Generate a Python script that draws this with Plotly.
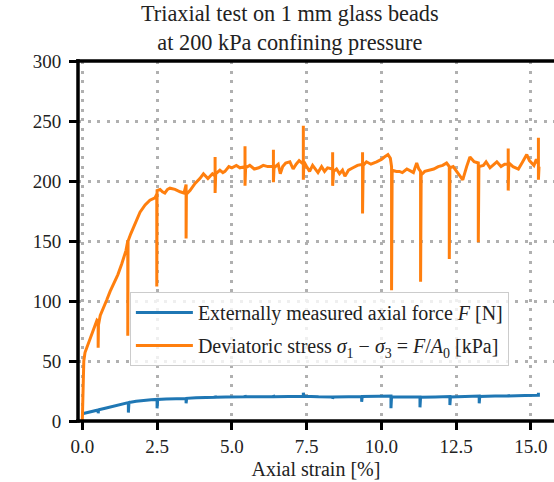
import plotly.graph_objects as go

# Deviatoric stress [kPa] vs axial strain [%]
stress_strain = [0.00, 0.05, 0.09, 0.18, 0.26, 0.38, 0.49, 0.53, 0.53, 0.54, 0.60, 0.69, 0.82, 0.93, 1.05, 1.19, 1.32, 1.46,
                 1.52, 1.52, 1.53, 1.62, 1.76, 1.93, 2.10, 2.26, 2.43, 2.49, 2.49, 2.50, 2.60, 2.68, 2.76, 2.85, 2.93, 3.10,
                 3.27, 3.40, 3.47, 3.47, 3.48, 3.60, 3.77, 3.93, 4.05, 4.20, 4.35, 4.44, 4.44, 4.44, 4.46, 4.60, 4.70, 4.77,
                 4.90, 5.00, 5.15, 5.27, 5.44, 5.44, 5.44, 5.46, 5.60, 5.75, 5.90, 6.05, 6.20, 6.39, 6.39, 6.39, 6.41, 6.55,
                 6.62, 6.70, 6.80, 6.94, 7.05, 7.15, 7.25, 7.39, 7.39, 7.39, 7.41, 7.50, 7.60, 7.70, 7.80, 7.88, 8.00, 8.10,
                 8.20, 8.37, 8.37, 8.37, 8.40, 8.50, 8.60, 8.70, 8.78, 8.90, 9.05, 9.20, 9.37, 9.37, 9.37, 9.39, 9.50, 9.65,
                 9.84, 10.00, 10.10, 10.22, 10.30, 10.34, 10.34, 10.36, 10.50, 10.60, 10.70, 10.85, 11.00, 11.07, 11.18,
                 11.25, 11.31, 11.31, 11.33, 11.45, 11.62, 11.75, 11.90, 12.05, 12.18, 12.27, 12.27, 12.29, 12.40, 12.52,
                 12.62, 12.72, 12.85, 12.96, 13.10, 13.24, 13.24, 13.26, 13.41, 13.50, 13.63, 13.75, 13.86, 14.00, 14.12,
                 14.24, 14.24, 14.24, 14.26, 14.40, 14.58, 14.70, 14.86, 14.95, 15.10, 15.18, 15.25, 15.25, 15.25, 15.27]
stress_kpa = [0, 50, 57, 63, 69, 76, 84, 83, 61, 80, 88, 93, 101, 108, 114, 122, 131, 142,
              150, 71, 150, 156, 164, 174, 180, 184, 186, 189, 112, 192, 193, 191, 190, 193, 194, 193,
              191, 190, 197, 152, 189, 192, 198, 202, 206, 202, 206, 204, 220, 190, 206, 209, 207, 208,
              212, 211, 213, 211, 212, 229, 196, 211, 213, 210, 211, 213, 212, 212, 226, 199, 211, 214,
              206, 212, 215, 216, 210, 214, 217, 214, 246, 201, 216, 212, 208, 213, 210, 207, 212, 208,
              211, 210, 224, 196, 208, 210, 206, 209, 204, 209, 211, 213, 214, 224, 173, 213, 216, 214,
              216, 218, 220, 222, 219, 212, 109, 209, 208, 208, 207, 210, 208, 207, 215,
              210, 208, 116, 205, 208, 209, 210, 212, 213, 215, 212, 135, 211, 212, 208,
              204, 201, 212, 220, 216, 215, 149, 212, 213, 216, 211, 214, 216, 212, 214,
              214, 227, 192, 215, 212, 210, 215, 222, 217, 213, 218, 214, 236, 201, 212]

# Externally measured axial force [N] vs axial strain [%]
force_strain = [0.00, 0.15, 0.35, 0.53, 0.53, 0.55, 0.80, 1.05, 1.30, 1.54, 1.54, 1.56, 1.80, 2.05, 2.30, 2.50, 2.50,
                2.52, 2.80, 3.10, 3.47, 3.47, 3.49, 3.80, 4.10, 4.44, 4.44, 4.46, 4.80, 5.10, 5.44, 5.44, 5.46, 5.90,
                6.39, 6.39, 6.41, 6.90, 7.39, 7.39, 7.41, 7.90, 8.37, 8.37, 8.39, 8.90, 9.34, 9.34, 9.36, 9.90, 10.32,
                10.32, 10.34, 10.80, 11.29, 11.29, 11.31, 11.80, 12.29, 12.29, 12.31, 12.80, 13.27, 13.27, 13.29,
                13.80, 14.24, 14.24, 14.26, 14.80, 15.10, 15.25, 15.25]
force_n = [6.0, 7.0, 8.2, 9.2, 6.5, 9.3, 10.8, 12.2, 13.8, 15.3, 7.0, 15.4, 16.5, 17.3, 17.8, 18.0, 10.6,
           18.0, 18.3, 18.6, 18.8, 14.7, 18.9, 19.3, 19.6, 19.8, 21.0, 19.8, 20.0, 20.2, 20.2, 21.5, 20.2, 20.3,
           20.4, 21.5, 20.3, 20.5, 20.4, 23.5, 20.6, 20.2, 20.1, 18.5, 20.0, 20.2, 20.4, 16.0, 20.4, 20.6, 20.8,
           10.6, 20.2, 20.1, 20.0, 11.4, 19.8, 20.1, 20.4, 13.3, 20.0, 20.5, 20.8, 14.7, 20.5,
           20.9, 21.0, 22.0, 20.8, 21.2, 21.3, 21.5, 23.5]

x_ticks = [0.0, 2.5, 5.0, 7.5, 10.0, 12.5, 15.0]
x_tick_labels = ["0.0", "2.5", "5.0", "7.5", "10.0", "12.5", "15.0"]
y_ticks = [0, 50, 100, 150, 200, 250, 300]

FONT = "Liberation Serif, DejaVu Serif, serif"
TXT = "#222"

fig = go.Figure()
fig.add_trace(go.Scatter(x=force_strain, y=force_n, mode="lines",
                         line=dict(color="#1f77b4", width=3),
                         name="Externally measured axial force <i>F</i> [N]", legendgroup="a"))
fig.add_trace(go.Scatter(x=stress_strain, y=stress_kpa, mode="lines",
                         line=dict(color="#ff7f0e", width=3),
                         name="Deviatoric stress <i>σ</i><sub>1</sub> − <i>σ</i><sub>3</sub> = <i>F</i>/<i>A</i><sub>0</sub> [kPa]",
                         legendgroup="b"))

grid = dict(showgrid=True, gridcolor="#b0b0b0", gridwidth=3, griddash="3px,6.5px")

fig.update_xaxes(range=[-0.144, 15.771], tickvals=x_ticks, ticktext=x_tick_labels,
                 ticks="outside", ticklen=8, tickwidth=3, tickcolor="black",
                 showline=False, zeroline=False,
                 title=dict(text="Axial strain [%]", font=dict(family=FONT, size=20, color=TXT), standoff=6),
                 tickfont=dict(family=FONT, size=19, color=TXT), **grid)
fig.update_yaxes(range=[0, 300], tickvals=y_ticks,
                 ticks="outside", ticklen=8, tickwidth=3, tickcolor="black",
                 showline=False, zeroline=False, ticklabelstandoff=4,
                 tickfont=dict(family=FONT, size=19, color=TXT), **grid)

spine = dict(color="black", width=3.5)
fig.add_shape(type="line", xref="paper", yref="paper", x0=0, x1=0, y0=-0.005, y1=1.005, line=spine, layer="above")
fig.add_shape(type="line", xref="paper", yref="paper", x0=-0.004, x1=1, y0=0, y1=0, line=spine, layer="above")
fig.add_shape(type="line", xref="paper", yref="paper", x0=-0.004, x1=1, y0=1, y1=1, line=spine, layer="above")

fig.add_annotation(text="Triaxial test on 1 mm glass beads<br>at 200 kPa confining pressure",
                   xref="paper", yref="paper", x=(290 - 78) / 476, y=(421 - 27.5) / 360,
                   xanchor="center", yanchor="middle", showarrow=False,
                   font=dict(family=FONT, size=22.3, color=TXT))

fig.update_layout(
    width=554, height=482,
    margin=dict(l=78, r=0, t=61, b=61),
    paper_bgcolor="white", plot_bgcolor="white",
    font=dict(family=FONT, size=19, color=TXT),
    legend=dict(x=0.109, y=0.358, xanchor="left", yanchor="top",
                bgcolor="rgba(255,255,255,0.8)", bordercolor="#cccccc", borderwidth=1,
                font=dict(family=FONT, size=20, color=TXT), tracegroupgap=4, itemwidth=57),
    showlegend=True,
)

fig.write_html("out.html")
